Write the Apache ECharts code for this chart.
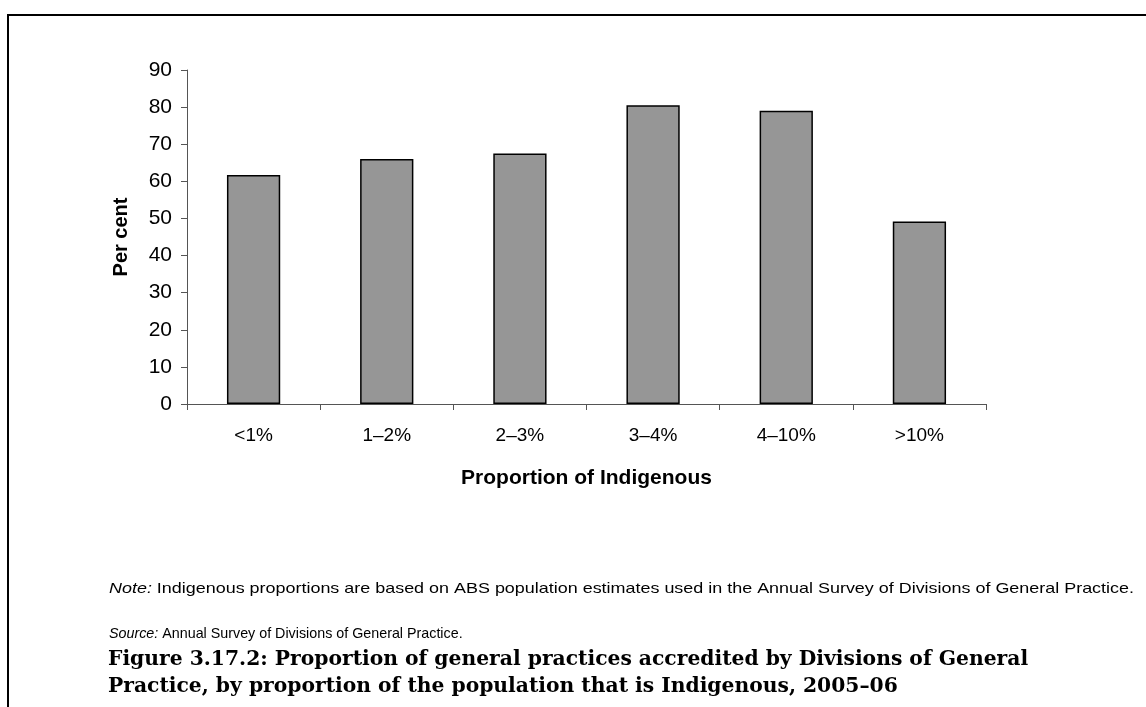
<!DOCTYPE html>
<html><head><meta charset="utf-8">
<script src="https://cdn.jsdelivr.net/npm/echarts@6/dist/echarts.min.js"></script>
<style>html,body{margin:0;padding:0;background:#fff}#c{width:1146px;height:707px}</style>
</head><body><div id="c"></div>
<script>
const categories = ['<1%', '1–2%', '2–3%', '3–4%', '4–10%', '>10%'];
const values = [61.7, 66.0, 67.5, 80.5, 79.0, 49.2];
const yTicks = [0, 10, 20, 30, 40, 50, 60, 70, 80, 90];
const xTitle = 'Proportion of Indigenous';
const yTitle = 'Per cent';
const noteText = 'Indigenous proportions are based on ABS population estimates used in the Annual Survey of Divisions of General Practice.';
const sourceText = 'Annual Survey of Divisions of General Practice.';
const captionLines = ['Figure 3.17.2: Proportion of general practices accredited by Divisions of General', 'Practice, by proportion of the population that is Indigenous, 2005–06'];

const chart = echarts.init(document.getElementById('c'), null, {renderer: 'canvas'});
const sans = '"Liberation Sans", Arial, sans-serif';
const serif = '"DejaVu Serif", serif';
const axisCol = '#555';
chart.setOption({
  animation: false,
  backgroundColor: '#fff',
  grid: {left: 187, right: 160, top: 70, bottom: 303, containLabel: false},
  xAxis: {
    type: 'category', data: categories,
    axisLine: {lineStyle: {color: axisCol, width: 1}},
    axisTick: {show: true, length: 6, lineStyle: {color: axisCol}},
    axisLabel: {color: '#000', fontFamily: sans, fontSize: 19, margin: 22},
    name: xTitle, nameLocation: 'middle', nameGap: 64,
    nameTextStyle: {color: '#000', fontFamily: sans, fontSize: 21, fontWeight: 'bold'}
  },
  yAxis: {
    type: 'value', min: yTicks[0], max: yTicks[yTicks.length - 1], interval: 10,
    splitLine: {show: false},
    axisLine: {show: true, lineStyle: {color: axisCol, width: 1}},
    axisTick: {show: true, length: 6, lineStyle: {color: axisCol}},
    axisLabel: {color: '#000', fontFamily: sans, fontSize: 21, margin: 15},
    name: yTitle, nameLocation: 'middle', nameGap: 56, nameRotate: 90,
    nameTextStyle: {color: '#000', fontFamily: sans, fontSize: 20, fontWeight: 'bold'}
  },
  series: [{
    type: 'bar', data: values, barCategoryGap: '60%',
    itemStyle: {color: '#969696', borderColor: '#000', borderWidth: 1.5}
  }],
  graphic: [
    {type: 'polyline', shape: {points: [[8, 720], [8, 15], [1160, 15]]}, style: {stroke: '#000', lineWidth: 2, fill: null}},
    {type: 'text', x: 109, y: 589, scaleX: 1.237, style: {
      text: '{i|Note:} ' + noteText, verticalAlign: 'middle',
      rich: {i: {fontStyle: 'italic', fontFamily: sans, fontSize: 14.5, fill: '#000'}},
      font: '14.5px ' + sans, fill: '#000'}},
    {type: 'text', x: 109, y: 634, style: {
      text: '{i|Source:} ' + sourceText, verticalAlign: 'middle',
      rich: {i: {fontStyle: 'italic', fontFamily: sans, fontSize: 14.3, fill: '#000'}},
      font: '14.3px ' + sans, fill: '#000'}},
    {type: 'text', x: 108, y: 660, style: {text: captionLines[0], verticalAlign: 'middle', font: 'bold 20.3px ' + serif, fill: '#000'}},
    {type: 'text', x: 108, y: 687, style: {text: captionLines[1], verticalAlign: 'middle', font: 'bold 20.3px ' + serif, fill: '#000'}}
  ]
});
</script></body></html>
